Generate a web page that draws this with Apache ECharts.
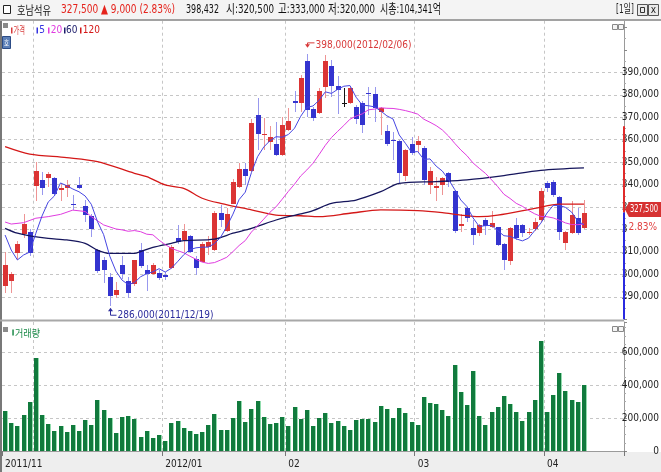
<!DOCTYPE html>
<html>
<head>
<meta charset="utf-8">
<script src="https://cdn.jsdelivr.net/npm/echarts@6.0.0/dist/echarts.min.js"></script>
<style>
html, body { margin: 0; padding: 0; background: #fff; }
#chart { width: 661px; height: 472px; }
</style>
</head>
<body>
<div id="chart"></div>
<script>
// 호남석유 일봉 2011/11/24 ~ 2012/04/10
var dates = [
  '2011/11/24','2011/11/25','2011/11/28','2011/11/29','2011/11/30',
  '2011/12/01','2011/12/02','2011/12/05','2011/12/06','2011/12/07','2011/12/08','2011/12/09','2011/12/12','2011/12/13','2011/12/14',
  '2011/12/15','2011/12/16','2011/12/19','2011/12/20','2011/12/21','2011/12/22','2011/12/23','2011/12/26','2011/12/27','2011/12/28','2011/12/29',
  '2012/01/02','2012/01/03','2012/01/04','2012/01/05','2012/01/06','2012/01/09','2012/01/10','2012/01/11','2012/01/12','2012/01/13',
  '2012/01/16','2012/01/17','2012/01/18','2012/01/19','2012/01/20','2012/01/25','2012/01/26','2012/01/27','2012/01/30','2012/01/31',
  '2012/02/01','2012/02/02','2012/02/03','2012/02/06','2012/02/07','2012/02/08','2012/02/09','2012/02/10','2012/02/13','2012/02/14',
  '2012/02/15','2012/02/16','2012/02/17','2012/02/20','2012/02/21','2012/02/22','2012/02/23','2012/02/24','2012/02/27','2012/02/28','2012/02/29',
  '2012/03/02','2012/03/05','2012/03/06','2012/03/07','2012/03/08','2012/03/09','2012/03/12','2012/03/13','2012/03/14','2012/03/15',
  '2012/03/16','2012/03/19','2012/03/20','2012/03/21','2012/03/22','2012/03/23','2012/03/26','2012/03/27','2012/03/28','2012/03/29','2012/03/30',
  '2012/04/02','2012/04/03','2012/04/04','2012/04/05','2012/04/06','2012/04/09','2012/04/10'
];
var opens = [
  295000,297000,309500,318000,319000,339500,342000,343000,343000,337500,
  338500,331500,340000,330500,326000,311000,306500,299000,291000,304000,
  297000,295500,311000,302000,300000,300500,299500,303000,316000,315500,
  317000,307000,305500,312000,311000,327500,319500,331500,339000,347000,
  346000,371000,362000,359000,358000,353000,364500,377000,376500,395000,
  373500,372000,383500,393000,384000,376500,376500,374500,376500,381000,
  380500,372500,364000,360000,359500,344000,358000,357500,356500,340000,
  338500,340000,345000,337000,321500,329500,320500,318500,324000,321000,
  321000,313500,306000,322000,322000,318500,320000,324000,340500,341000,
  334500,314000,318500,325000,320500
];
var closes = [
  304000,300000,313500,322500,309500,346000,338500,344500,336000,338500,
  340000,331000,338500,326500,320000,301500,302000,290500,293000,300000,
  291500,306500,303500,300000,304000,298500,299000,312000,314500,319500,
  310000,303000,313500,314500,327500,324000,327000,341000,347000,344000,
  367500,362500,362500,361000,353000,366500,368500,376500,387500,373000,
  369500,381500,395000,384000,382000,376500,383000,369000,366500,380500,
  374000,374000,358000,359500,345000,355500,354000,359500,342000,346000,
  339500,343000,341000,319500,322500,325000,317500,322000,321500,323000,
  313000,306500,320500,316000,318500,319000,323500,337000,338500,335500,
  319000,319000,326500,318500,327500
];
var lows = [
  291500,291500,306500,316000,308000,332500,335500,339000,335500,332500,
  334500,328500,338000,323500,316500,300500,296000,286000,289500,298000,
  289500,295000,303000,292500,299500,297500,297500,302500,313500,310000,
  309500,299500,305500,308500,310500,321000,319000,331500,338500,340000,
  345500,355500,355500,355500,352500,352500,364000,372500,372500,370000,
  368500,371500,378500,379000,371500,374500,376000,367000,363000,371000,
  368000,362000,357000,351000,340500,341500,353000,354000,340000,336000,
  332500,335500,339000,318500,319000,323500,313000,317000,317500,320500,
  312500,302000,304000,315500,316500,317500,319500,323500,336500,334500,
  315500,311000,318000,317500,320000
];
var highs = [
  310000,301000,315000,327000,320000,350000,345500,345500,343500,340500,
  342000,335500,343500,333000,327000,311500,307500,300500,296500,308000,
  299000,306500,314000,304000,305000,302000,301000,313000,322000,322500,
  317500,308000,314500,317000,328000,331000,329500,342500,349500,349500,
  369000,378500,369500,366000,368000,370000,374000,381500,389000,398000,
  374500,383000,397500,395500,388500,383000,383500,375500,377000,383500,
  383500,374500,366500,363500,360000,356000,361000,361500,357000,348000,
  343500,343500,345500,337500,327000,330000,324000,322500,325000,328000,
  321000,314000,321000,325000,322500,320500,325000,338500,341500,342000,
  335000,319500,332500,329500,333000
];
var volumes = [
  245000,170000,152000,219000,300000,567000,219000,164000,122000,152000,
  115000,158000,122000,188000,158000,310000,249000,200000,109000,207000,
  213000,194000,85000,122000,79000,97000,61000,170000,182000,140000,
  122000,103000,115000,158000,225000,128000,128000,200000,304000,176000,
  255000,304000,207000,164000,170000,207000,152000,267000,194000,249000,
  152000,200000,231000,168000,182000,152000,128000,188000,194000,194000,
  176000,274000,255000,200000,261000,231000,176000,158000,328000,292000,
  286000,249000,213000,523000,361000,280000,486000,213000,158000,237000,
  267000,334000,286000,237000,182000,237000,310000,669000,237000,340000,
  474000,365000,310000,298000,398432
];
// 이동평균: 화면 앞쪽(과거 데이터가 없는 구간)은 그림에서 읽은 값
var ma5Lead = [[0, 317500], [1, 310800], [2, 306400], [3, 308600]];
var ma20Lead = [[0, 323300], [1, 322400], [3, 323000], [5, 325000], [7, 325700], [9, 326700],
  [11, 328600], [13, 328000], [14, 325700], [16, 322000], [18, 320200]];
var ma60Points = [[0, 320500], [2, 318300], [4, 317100], [7, 316000], [10, 315300], [13, 313800],
  [15, 310800], [17, 309300], [21, 309300], [22, 310100], [24, 312000], [27, 313800], [29, 315000],
  [34, 315700], [37, 318300], [40, 320500], [44, 324200], [46, 325700], [48, 326900], [50, 328400],
  [53, 331600], [57, 333100], [61, 336800], [64, 340500], [70, 341300], [75, 342100], [81, 344000],
  [87, 346300], [94, 347400]];
var ma120Points = [[0, 356900], [4, 353600], [10, 352000], [15, 350200], [21, 345000], [23, 343500],
  [26, 339800], [29, 338300], [32, 333900], [35, 331600], [40, 328700], [44, 326400], [48, 326100],
  [51, 325700], [56, 327200], [61, 328700], [67, 328400], [71, 327500], [74, 326400], [77, 325700],
  [80, 326400], [86, 329400], [90, 331300], [94, 331300]];

var priceTicks = [290000, 300000, 310000, 320000, 330000, 340000, 350000, 360000, 370000, 380000, 390000];
var volumeTicks = [0, 200000, 400000, 600000];
var tickDates = ['2011/11/24', '2012/01/02', '2012/02/01', '2012/03/02', '2012/04/02'];
var tickLabels = ['2011/11', '2012/01', '02', '03', '04'];
var prevClose = 318500;
var upperLimit = 366000;
var lowerLimit = 271000;
var marketCap = '104,341억';
var highMark = ['2012/02/06', 398000];
var lowMark = ['2011/12/19', 286000];

var NARROW = '"Liberation Sans Narrow", "DejaVu Sans Condensed", "Noto Sans CJK KR", sans-serif';
var KR = '"Noto Sans CJK KR", sans-serif';

function fmt(v) { return String(v).replace(/\B(?=(\d{3})+(?!\d))/g, ','); }

function isMonthStart(index, value) {
  return index > 0 && index < dates.length && dates[index].slice(0, 7) !== dates[index - 1].slice(0, 7);
}
function isTickDate(index, value) { return tickDates.indexOf(dates[index]) >= 0; }

var candleData = dates.map(function (d, i) { return [i, opens[i], closes[i], lows[i], highs[i]]; });
var volumeData = volumes.map(function (v, i) { return [i, v]; });

function movingAverage(n, lead) {
  var out = lead.slice();
  for (var i = n - 1; i < closes.length; i++) {
    var s = 0;
    for (var k = 0; k < n; k++) s += closes[i - k];
    out.push([i, Math.round(s / n)]);
  }
  return out;
}

function renderCandle(params, api) {
  var i = api.value(0);
  var o = api.value(1), c = api.value(2), lo = api.value(3), hi = api.value(4);
  var top = api.coord([i, hi]);
  var x = Math.round(top[0]) + 0.5;
  var yHi = Math.round(top[1]), yLo = Math.round(api.coord([i, lo])[1]);
  var yO = Math.round(api.coord([i, o])[1]), yC = Math.round(api.coord([i, c])[1]);
  var body = '#111', wick = '#111';
  if (c > o) { body = '#db3434'; wick = '#ee9494'; }
  else if (c < o) { body = '#3434cf'; wick = '#9898ee'; }
  var y0 = Math.min(yO, yC), h = Math.max(1, Math.abs(yO - yC));
  return {
    type: 'group',
    children: [
      { type: 'line', shape: { x1: x, y1: yHi, x2: x, y2: yLo }, style: { stroke: wick, lineWidth: 1 } },
      { type: 'rect', shape: { x: x - 2.5, y: y0, width: 5, height: h }, style: { fill: body } }
    ]
  };
}

function renderVolume(params, api) {
  var p = api.coord([api.value(0), api.value(1)]);
  var base = Math.round(api.coord([api.value(0), 0])[1]);
  var x = Math.round(p[0]) - 2, top = Math.round(p[1]);
  return {
    type: 'group',
    children: [
      { type: 'rect', shape: { x: x, y: top, width: 4, height: base - top }, style: { fill: '#117a3d' } },
      { type: 'rect', shape: { x: x + 4, y: top, width: 1, height: base - top }, style: { fill: '#92dcae' } }
    ]
  };
}

var gridLine = { color: '#c6c6c6', type: [3, 3], width: 1 };

var myChart = echarts.init(document.getElementById('chart'));
var option = {
  animation: false,
  backgroundColor: '#fff',
  grid: [
    { left: 2, right: 37, top: 20.7, height: 298.5, outerBoundsMode: 'none' },
    { left: 2, right: 37, top: 322, height: 129, outerBoundsMode: 'none' }
  ],
  xAxis: [
    {
      type: 'category', gridIndex: 0, data: dates, max: 100, boundaryGap: true,
      axisLine: { show: false }, axisTick: { show: false }, axisLabel: { show: false },
      splitLine: { show: true, interval: isMonthStart, lineStyle: gridLine }
    },
    {
      type: 'category', gridIndex: 1, data: dates, max: 100, boundaryGap: true,
      axisLine: { show: true, lineStyle: { color: '#9a9a9a' } },
      axisTick: { show: true, interval: isTickDate, length: 5, lineStyle: { color: '#777' } },
      axisLabel: {
        show: true, interval: isTickDate, align: 'left', margin: 8,
        fontSize: 10, fontFamily: NARROW, color: '#222',
        formatter: function (value) { var k = tickDates.indexOf(value); return k >= 0 ? tickLabels[k] : ''; }
      },
      splitLine: { show: true, interval: isMonthStart, lineStyle: gridLine }
    }
  ],
  yAxis: [
    {
      type: 'value', gridIndex: 0, position: 'right', min: 280000, max: 413000, interval: 10000,
      splitLine: { show: false },
      axisLine: { show: true, lineStyle: { color: '#9a9a9a' } },
      axisTick: { show: true, length: 3, lineStyle: { color: '#888' } },
      minorTick: { show: true, splitNumber: 2, length: 2, lineStyle: { color: '#aaa' } },
      axisLabel: {
        align: 'right', margin: 35, fontSize: 10, fontFamily: NARROW, color: '#222',
        formatter: function (v) { return priceTicks.indexOf(v) >= 0 ? fmt(v) : ''; }
      }
    },
    {
      type: 'value', gridIndex: 1, position: 'right', min: 0, max: 784000, interval: 200000,
      splitLine: { show: true, showMinLine: false, showMaxLine: false, lineStyle: gridLine },
      axisLine: { show: true, lineStyle: { color: '#9a9a9a' } },
      axisTick: { show: true, length: 3, lineStyle: { color: '#888' } },
      minorTick: { show: true, splitNumber: 4, length: 2, lineStyle: { color: '#aaa' } },
      axisLabel: {
        align: 'right', margin: 35, fontSize: 10, fontFamily: NARROW, color: '#222',
        formatter: function (v) { return volumeTicks.indexOf(v) >= 0 ? fmt(v) : ''; }
      }
    }
  ],
  series: [
    {
      name: '가격', type: 'custom', xAxisIndex: 0, yAxisIndex: 0,
      data: candleData, encode: { x: 0, y: [1, 2, 3, 4] },
      renderItem: renderCandle, silent: true, z: 2
    },
    {
      name: '120', type: 'line', data: ma120Points, smooth: 0.3, symbol: 'none', silent: true, z: 3,
      lineStyle: { color: '#d41818', width: 1.3 },
      markLine: {
        silent: true, symbol: 'none', z: 1, label: { show: false }, animation: false,
        lineStyle: gridLine,
        data: priceTicks.map(function (v) { return { yAxis: v }; })
      }
    },
    {
      name: '60', type: 'line', data: ma60Points, smooth: 0.3, symbol: 'none', silent: true, z: 3,
      lineStyle: { color: '#15155c', width: 1.3 }
    },
    {
      name: '20', type: 'line', data: movingAverage(20, ma20Lead), symbol: 'none', silent: true, z: 3,
      lineStyle: { color: '#e03ce0', width: 1 }
    },
    {
      name: '5', type: 'line', data: movingAverage(5, ma5Lead), symbol: 'none', silent: true, z: 3,
      lineStyle: { color: '#4646e2', width: 1 }
    },
    {
      name: '거래량', type: 'custom', xAxisIndex: 1, yAxisIndex: 1,
      data: volumeData, encode: { x: 0, y: 1 },
      renderItem: renderVolume, silent: true
    }
  ]
};
myChart.setOption(option);

// ---- 화면 장식 (헤더, 범례, 현재가 표시) ----
var measure = document.createElement('canvas').getContext('2d');
function txt(text, x, y, o) {
  o = o || {};
  var size = o.size || 10, family = o.family || NARROW, weight = o.weight || 'normal';
  var s = 1;
  if (o.width) {
    measure.font = weight + ' ' + size + 'px ' + family;
    s = o.width / measure.measureText(text).width;
  }
  return {
    type: 'text', x: x, y: y, scaleX: s, z: 30, silent: true,
    style: {
      text: text, fill: o.color || '#222', fontSize: size, fontFamily: family, fontWeight: weight,
      align: o.align || 'left', textAlign: o.align || 'left', verticalAlign: 'middle', textVerticalAlign: 'middle'
    }
  };
}
function box(x, y, w, h, fill, stroke, z) {
  return { type: 'rect', z: z == null ? 25 : z, silent: true, shape: { x: x, y: y, width: w, height: h },
    style: { fill: fill || 'none', stroke: stroke || null, lineWidth: 1 } };
}

var last = closes.length - 1;
var lastClose = closes[last];
var change = lastClose - prevClose;
var pct = (change / prevClose * 100).toFixed(2) + '%';

var hi = myChart.convertToPixel({ gridIndex: 0 }, [dates.indexOf(highMark[0]), highMark[1]]);
var lo = myChart.convertToPixel({ gridIndex: 0 }, [dates.indexOf(lowMark[0]), lowMark[1]]);
var hx = Math.round(hi[0]) + 0.5, hy = hi[1];
var lx = Math.round(lo[0]) + 0.5, ly = lo[1];
var yNow = myChart.convertToPixel({ yAxisIndex: 0 }, lastClose);
var yUp = myChart.convertToPixel({ yAxisIndex: 0 }, upperLimit);
var yDown = Math.min(myChart.convertToPixel({ yAxisIndex: 0 }, lowerLimit),
  myChart.convertToPixel({ yAxisIndex: 0 }, 280000));
var axisX = 623.5;
var tagY = yNow - 3;

var elements = [
  // 바탕/틀
  box(0, 0, 661, 19, '#f4f4f4', null, -1),
  box(0, 19, 661, 2, '#a2a2a2', null, 26),
  box(0, 21, 2, 451, '#787878', null, 26),
  box(0, 319.5, 624, 2, '#a8a8a8', null, 26),
  box(0, 452, 661, 20, '#eeeeee', null, -1),
  // 헤더
  box(3.5, 5.5, 7, 8, '#fff', '#222'),
  txt('호남석유', 17, 10, { size: 12, family: KR, color: '#111', width: 34 }),
  txt(fmt(lastClose) + ' \u25B2 ' + fmt(change) + ' (' + pct + ')', 61, 10, { size: 13, color: '#e5231c', width: 114 }),
  txt(fmt(volumes[last]), 186, 10, { size: 13, color: '#111', width: 33 }),
  txt('시:' + fmt(opens[last]), 226, 10, { size: 13, color: '#111', width: 48 }),
  txt('고:' + fmt(highs[last]), 278, 10, { size: 13, color: '#111', width: 47 }),
  txt('저:' + fmt(lows[last]), 328, 10, { size: 13, color: '#111', width: 47 }),
  txt('시총:' + marketCap, 380, 10, { size: 13, color: '#111', width: 61 }),
  txt('[1일]', 616, 10, { size: 12, color: '#222', width: 18 }),
  box(637.5, 4.5, 10, 11, '#eaeaea', '#555'),
  box(640.5, 7.5, 4, 5, 'none', '#333'),
  box(648.5, 4.5, 10, 11, '#eaeaea', '#555'),
  txt('x', 653.5, 10, { size: 10, color: '#222', align: 'center' }),
  // 가격 범례
  box(3, 23, 5, 5, '#8a8a8a'),
  box(11, 27.5, 1.5, 6, '#d83a3a'),
  txt('가격', 13.5, 30.5, { size: 10, family: KR, color: '#d83a3a', width: 11.5 }),
  box(36.5, 27.5, 1.5, 6, '#3434e0'),
  txt('5', 39.3, 30.5, { size: 10, color: '#3434e0' }),
  box(48, 27.5, 1.5, 6, '#e03ce0'),
  txt('20', 50.7, 30.5, { size: 10, color: '#e03ce0' }),
  box(64, 27.5, 1.5, 6, '#1b1b6a'),
  txt('60', 66, 30.5, { size: 10, color: '#1b1b6a' }),
  box(80, 27.5, 1.5, 6, '#d41818'),
  txt('120', 82.7, 30.5, { size: 10, color: '#d41818' }),
  box(2.5, 36.5, 8, 12, '#5c80b8', '#2c4c86'),
  txt('호', 4, 42.5, { size: 8, family: KR, color: '#fff', width: 5 }),
  box(612.5, 24.5, 5, 5, '#f4f4f4', '#888'),
  box(618.5, 24.5, 5, 5, '#f4f4f4', '#888'),
  // 거래량 범례
  box(3, 327, 5, 5, '#8a8a8a'),
  box(12.3, 329.5, 1.5, 6, '#1b8a48'),
  txt('거래량', 15, 333, { size: 10, family: KR, color: '#1b8a48', width: 25 }),
  box(612.5, 326.5, 5, 5, '#f4f4f4', '#888'),
  box(618.5, 326.5, 5, 5, '#f4f4f4', '#888'),
  // 최고/최저 표시
  { type: 'polyline', z: 30, silent: true, shape: { points: [[hx, hy - 8], [hx, hy - 11.5], [hx + 7, hy - 11.5]] },
    style: { stroke: '#d83a3a', lineWidth: 1, fill: null } },
  { type: 'polygon', z: 30, silent: true, shape: { points: [[hx - 2.5, hy - 10], [hx + 2.5, hy - 10], [hx, hy - 6.5]] },
    style: { fill: '#d83a3a' } },
  txt(fmt(highMark[1]) + '(' + highMark[0] + ')', hx + 8, hy - 8.5, { size: 10, color: '#d83a3a' }),
  { type: 'polyline', z: 30, silent: true, shape: { points: [[lx, ly + 4], [lx, ly + 9.5], [lx + 6, ly + 9.5]] },
    style: { stroke: '#2c2c9c', lineWidth: 1, fill: null } },
  { type: 'polygon', z: 30, silent: true, shape: { points: [[lx - 2.5, ly + 5.5], [lx + 2.5, ly + 5.5], [lx, ly + 2]] },
    style: { fill: '#2c2c9c' } },
  txt(fmt(lowMark[1]) + '(' + lowMark[0] + ')', lx + 7, ly + 9.5, { size: 10, color: '#2c2c9c' }),
  // 상/하한 범위 막대와 현재가 태그
  box(axisX - 0.5, yUp, 2, yNow - yUp, '#e02a2a', null, 28),
  box(axisX - 0.5, yNow, 2, yDown - yNow, '#2a2ae0', null, 28),
  { type: 'polygon', z: 29, silent: true,
    shape: { points: [[625, tagY], [629, tagY - 7.5], [661, tagY - 7.5], [661, tagY + 7.5], [629, tagY + 7.5]] },
    style: { fill: '#d63232' } },
  txt(fmt(lastClose), 658, tagY, { size: 11, color: '#fff', align: 'right', width: 28 }),
  box(627, yNow + 8, 34, 13, '#fff', null, 29),
  txt(pct, 657, yNow + 14.5, { size: 10, color: '#e04040', align: 'right' })
];
myChart.setOption({ graphic: { elements: elements } });
</script>
</body>
</html>
